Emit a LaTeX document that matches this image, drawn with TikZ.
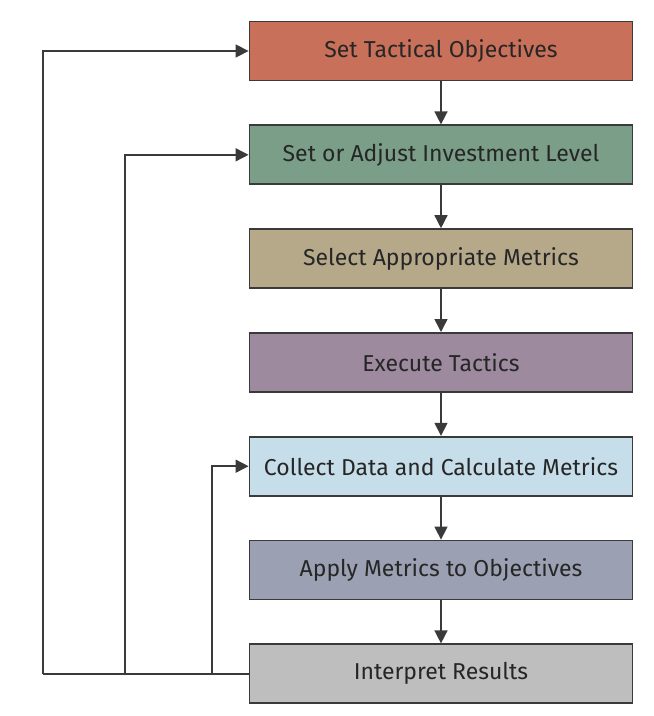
\documentclass[tikz,border=0pt]{standalone}
\usepackage{fontspec}
\setmainfont{Fira Sans}
\usepackage{xcolor}
\usetikzlibrary{positioning,arrows.meta}
\definecolor{FInk}{HTML}{262626}
\definecolor{FLine}{HTML}{3A3A3A}
\definecolor{FObj}{HTML}{C8705A}
\definecolor{FInv}{HTML}{7A9E87}
\definecolor{FSel}{HTML}{B5A98A}
\definecolor{FExe}{HTML}{9E8A9E}
\definecolor{FCol}{HTML}{C6DEEA}
\definecolor{FApp}{HTML}{9BA1B3}
\definecolor{FRes}{HTML}{BEBEBE}

\begin{document}
\begin{tikzpicture}[
  x=1pt, y=1pt,
  node distance=43pt, every node/.style={font=\fontsize{23}{27}\selectfont, text=FInk},
  stage/.style={draw=FLine, line width=1.8pt, minimum width=383pt,
                minimum height=59pt, align=center, inner sep=0pt},
  arrow/.style={-{Triangle[length=13pt,width=13pt]}, draw=FLine, line width=1.5pt},
  link/.style={draw=FLine, line width=1.5pt},
]
\useasboundingbox (0,0) rectangle (654,-716);
\node[stage, fill=FObj] at (441,-51) (obj) {Set Tactical Objectives};
\node[stage, fill=FInv, below=of obj] (inv) {Set or Adjust Investment Level};
\node[stage, fill=FSel, below=of inv] (sel) {Select Appropriate Metrics};
\node[stage, fill=FExe, below=of sel] (exe) {Execute Tactics};
\node[stage, fill=FCol, below=of exe] (col) {Collect Data and Calculate Metrics};
\node[stage, fill=FApp, below=of col] (app) {Apply Metrics to Objectives};
\node[stage, fill=FRes, below=of app] (res) {Interpret Results};
% forward chain
\foreach \a/\b in {obj/inv,inv/sel,sel/exe,exe/col,col/app,app/res}
  {\draw[arrow] (\a) -- (\b);}
% feedback loops
\coordinate (loopA) at (43,0);
\coordinate (loopB) at (125,0);
\coordinate (loopC) at (212,0);
\draw[link] (res.west) -- (res.west -| loopA);
\draw[arrow] (res.west -| loopA) |- (obj.west);
\draw[arrow] (res.west -| loopB) |- (inv.west);
\draw[arrow] (res.west -| loopC) |- (col.west);
\end{tikzpicture}
\end{document}
